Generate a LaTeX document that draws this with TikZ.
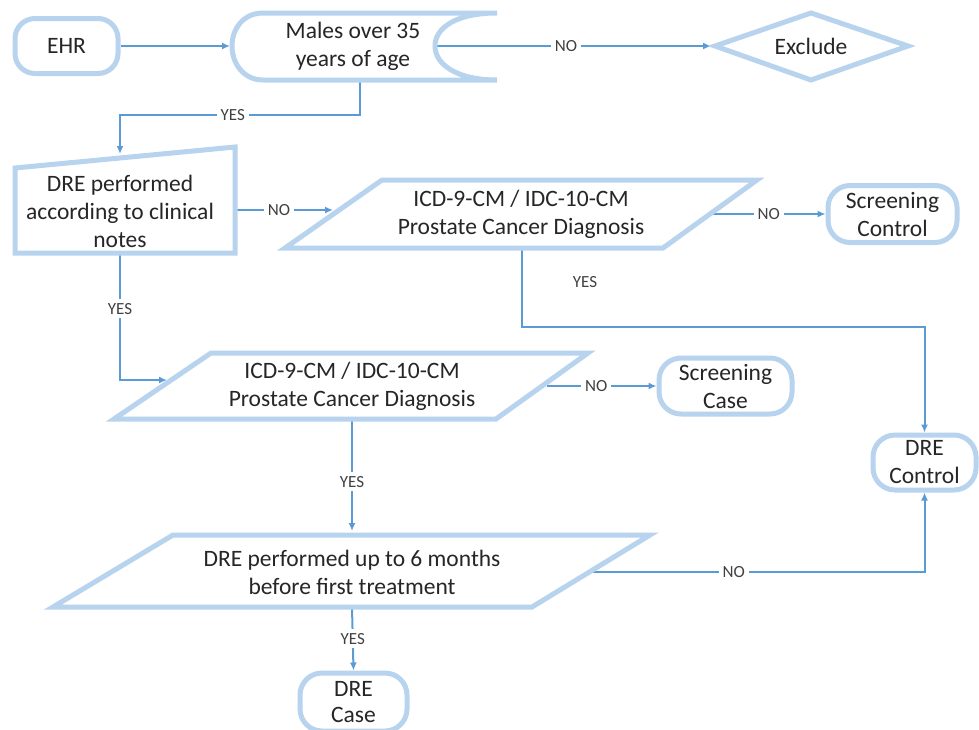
\documentclass[tikz,border=0pt]{standalone}
\usepackage{fontspec}
\setmainfont{Carlito}
\usetikzlibrary{arrows.meta}
\definecolor{shapeblue}{RGB}{183,211,237}
\definecolor{linkblue}{RGB}{91,155,213}
\definecolor{txt}{RGB}{38,38,38}
\definecolor{lbl}{RGB}{64,64,64}
\pgfdeclarelayer{background}
\pgfsetlayers{background,main}
\begin{document}
\begin{tikzpicture}[x=1pt,y=-1pt,
  shp/.style={draw=shapeblue,line width=5pt,fill=white,line join=miter},
  term/.style={shp,rounded corners=22pt,inner sep=0pt,align=center,text=txt,
    font=\fontsize{23.5}{28}\selectfont},
  txtnode/.style={inner sep=0pt,align=center,text=txt,font=\fontsize{23.5}{28}\selectfont},
  link/.style={draw=linkblue,line width=2pt,-{Latex[length=8pt,width=7pt]}},
  lab/.style={fill=white,inner sep=4pt,text=lbl,font=\fontsize{17}{20}\selectfont}]
\useasboundingbox (0,0) rectangle (979,729);
\clip (0,0) rectangle (979,729);

% terminals
\node[term,minimum width=103pt,minimum height=55pt,rounded corners=20pt] (ehr) at (66.5,46) {EHR};
\node[term,minimum width=129pt,minimum height=57pt] (sc) at (892.5,214) {Screening\\Control};
\node[term,minimum width=133pt,minimum height=56pt] (scase) at (725.5,386) {Screening\\Case};
\node[term,minimum width=103pt,minimum height=55pt] (dctrl) at (924.5,462.5) {DRE\\Control};
\node[term,minimum width=107pt,minimum height=58pt,font=\fontsize{23.5}{26}\selectfont] (dcase) at (353.5,702) {DRE\\Case};

% stored data shape
\draw[shp] (263,13) -- (497,13) .. controls (456,13) and (435,28) .. (435,46)
  .. controls (435,64) and (456,80) .. (497,80) -- (263,80)
  .. controls (244,80) and (232,64) .. (232,46) .. controls (232,28) and (244,13) .. (263,13) -- cycle;
\node[txtnode] (males) at (353,46) {Males over 35\\years of age};
\coordinate (males-l) at (230,46);
\coordinate (males-r) at (435,46);
\coordinate (males-b) at (360,80);

% diamond
\draw[shp] (715,46) -- (811,13) -- (908,46) -- (811,80) -- cycle;
\node[txtnode] (excl) at (811,46) {Exclude};
\coordinate (excl-l) at (711,46);

% manual input
\draw[shp] (15,168) -- (235,147) -- (235,253) -- (15,253) -- cycle;
\node[txtnode] (dre) at (120,211) {DRE performed\\according to clinical\\notes};
\coordinate (dre-t) at (120,154);
\coordinate (dre-r) at (235,210);
\coordinate (dre-b) at (120,253);

% parallelogram 1
\draw[shp] (382,180) -- (757,180) -- (663,248) -- (285,248) -- cycle;
\node[txtnode] (icd1) at (521,214) {ICD-9-CM / IDC-10-CM\\Prostate Cancer Diagnosis};
\coordinate (p1-l) at (333,210);
\coordinate (p1-r) at (712,214);
\coordinate (p1-b) at (522,248);

% parallelogram 2
\draw[shp] (211,353) -- (588,353) -- (496,419) -- (114,419) -- cycle;
\node[txtnode] (icd2) at (352,386) {ICD-9-CM / IDC-10-CM\\Prostate Cancer Diagnosis};
\coordinate (p2-l) at (167,380);
\coordinate (p2-r) at (547,386);
\coordinate (p2-b) at (352,419);

% parallelogram 3
\draw[shp] (173,535) -- (650,535) -- (532,607) -- (53,607) -- cycle;
\node[txtnode] (dre6) at (352,572) {DRE performed up to 6 months\\before first treatment};
\coordinate (p3-t) at (352,531);
\coordinate (p3-r) at (590,572);
\coordinate (p3-b) at (352,607);

\node[lab,fill=none] (yes4) at (585,282) {YES};

\begin{pgfonlayer}{background}
\draw[link] (ehr.east) -- (males-l);
\draw[link] (males-r) -- node[lab,pos=0.475] (no1) {NO} (excl-l);
\draw[link] (males-b) -- (360,115) -- node[lab,pos=0.53] (yes1) {YES} (120,115) -- (dre-t);
\draw[link] (dre-r) -- node[lab,pos=0.45] (no2) {NO} (p1-l);
\draw[link] (p1-r) -- node[lab,pos=0.5] (no3) {NO} (p1-r -| sc.west);
\draw[link] (p1-b) -- (522,327) -- (924.5,327) -- (dctrl.north);
\draw[link] (dre-b) -- node[lab,pos=0.44] (yes2) {YES} (120,380) -- (p2-l);
\draw[link] (p2-r) -- node[lab,pos=0.45] (no4) {NO} (p2-r -| scase.west);
\draw[link] (p2-b) -- node[lab,pos=0.56] (yes3) {YES} (p3-t);
\draw[link] (p3-r) -- node[lab,pos=0.43] (no5) {NO} (924.5,572) -- (dctrl.south);
\draw[link] (p3-b) -- node[lab,pos=0.5] (yes5) {YES} (dcase.north);
\end{pgfonlayer}
\end{tikzpicture}
\end{document}
